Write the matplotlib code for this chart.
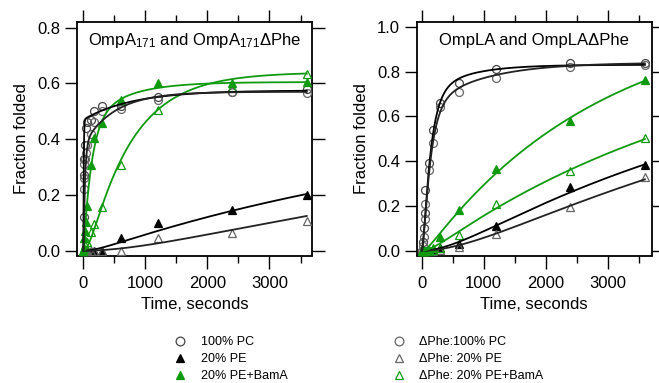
import numpy as np
import matplotlib
matplotlib.use("Agg")
import matplotlib.pyplot as plt
from matplotlib.lines import Line2D
from matplotlib.ticker import MultipleLocator

plt.rcParams['font.family'] = ['Liberation Sans', 'DejaVu Sans']
plt.rcParams['mathtext.fontset'] = 'custom'
plt.rcParams['mathtext.rm'] = 'Liberation Sans'
plt.rcParams['mathtext.it'] = 'Liberation Sans:italic'
plt.rcParams['mathtext.bf'] = 'Liberation Sans:bold'

GREEN = '#109a10'
GRAY = '#666666'
DGRAY = '#444444'

# ---------------- Left panel: OmpA171 / OmpA171 dPhe ----------------
tA_pc = [5, 10, 15, 30, 45, 60, 120, 180, 300, 600, 1200, 2400, 3600]
vA_pc = [0.12, 0.27, 0.33, 0.38, 0.44, 0.46, 0.47, 0.50, 0.52, 0.52, 0.55, 0.57, 0.58]
vA_dpc = [0.22, 0.26, 0.31, 0.33, 0.35, 0.38, 0.42, 0.46, 0.50, 0.51, 0.54, 0.57, 0.565]

tA_pe = [15, 30, 45, 60, 120, 180, 300, 600, 1200, 2400, 3600]
vA_pe = [0, 0, 0, 0, 0, 0, 0, 0.045, 0.10, 0.145, 0.20]
vA_dpe = [0, 0, 0, 0, 0, 0, 0, 0.0, 0.045, 0.062, 0.105]

tA_bam = [0, 15, 30, 45, 60, 120, 180, 300, 600, 1200, 2400, 3600]
vA_bam = [0.0, 0.044, 0.07, 0.104, 0.16, 0.307, 0.403, 0.457, 0.54, 0.60, 0.603, 0.605]
tA_dbam = [0, 15, 30, 60, 120, 180, 300, 600, 1200, 2400, 3600]
vA_dbam = [0.0, 0.01, 0.02, 0.03, 0.068, 0.096, 0.155, 0.307, 0.505, 0.589, 0.634]

# fit parameters: [amp_fast, tau1, tau2(lag), amp_slow, tau_slow]
fitA_pc = [0.47, 6, 1, 0.105, 800]
fitA_dpc = [0.38, 25, 2, 0.19, 500]
fitA_pe = [0.5, 6500, 200, 0.0, 1]
fitA_dpe = [0.5, 9000, 1000, 0.0, 1]
fitA_bam = [0.45, 130, 5, 0.155, 600]
fitA_dbam = [0.64, 700, 100, 0.0, 1]

# ---------------- Right panel: OmpLA / OmpLA dPhe ----------------
tL_pc = [0, 15, 30, 45, 60, 120, 180, 300, 600, 1200, 2400, 3600]
vL_pc = [0.0, 0.04, 0.10, 0.17, 0.27, 0.39, 0.54, 0.66, 0.75, 0.81, 0.84, 0.84]
vL_dpc = [0.0, 0.02, 0.06, 0.14, 0.21, 0.36, 0.48, 0.64, 0.71, 0.77, 0.82, 0.83]

tL_pe = [0, 15, 30, 60, 120, 180, 300, 600, 1200, 2400, 3600]
vL_pe = [0, 0, 0, 0, 0, 0, 0.01, 0.03, 0.11, 0.283, 0.381]
vL_dpe = [0, 0, 0, 0, 0, 0, 0.005, 0.018, 0.073, 0.197, 0.327]
vL_bam = [0, 0, 0, 0, 0.005, 0.01, 0.06, 0.182, 0.365, 0.578, 0.761]
vL_dbam = [0, 0, 0, 0, 0, 0.005, 0.01, 0.07, 0.209, 0.354, 0.504]

fitL_pc = [0.68, 120, 30, 0.15, 600]
fitL_dpc = [0.63, 120, 30, 0.21, 900]
fitL_pe = [0.9, 5500, 500, 0.0, 1]
fitL_dpe = [0.92, 6500, 800, 0.0, 1]
fitL_bam = [1.08, 2900, 80, 0.0, 1]
fitL_dbam = [1.0, 5000, 150, 0.0, 1]

xticks = [0, 1000, 2000, 3000]
yticksA = [0.0, 0.2, 0.4, 0.6, 0.8]
yticksL = [0.0, 0.2, 0.4, 0.6, 0.8, 1.0]


def model(t, p):
    a, tau1, tau2, b, taus = p
    k1, k2 = 1.0 / tau1, 1.0 / tau2
    seq = 1 - (k2 * np.exp(-k1 * t) - k1 * np.exp(-k2 * t)) / (k2 - k1)
    return a * seq + b * (1 - np.exp(-t / taus))


tt = np.linspace(0, 3600, 4001)

fig = plt.figure(figsize=(6.59, 3.83), dpi=100)
axA = fig.add_axes([77.3 / 659, 1 - 255.5 / 383, (311.7 - 77.3) / 659, (255.5 - 21.7) / 383])
axL = fig.add_axes([416.7 / 659, 1 - 255.5 / 383, (651.7 - 416.7) / 659, (255.5 - 21.7) / 383])

ms = 5.7
mew = 0.9
lw = 1.3


def pts(ax, t, v, marker, face, edge, z=3):
    ax.plot(t, v, linestyle='none', marker=marker, markersize=ms,
            markerfacecolor=face, markeredgecolor=edge, markeredgewidth=mew, zorder=z)


def curve(ax, p, color):
    ax.plot(tt, model(tt, p), color=color, lw=lw, zorder=4)


# Left panel
curve(axA, fitA_pe, 'black')
curve(axA, fitA_dpe, '#222222')
curve(axA, fitA_dbam, GREEN)
curve(axA, fitA_bam, GREEN)
curve(axA, fitA_pc, 'black')
curve(axA, fitA_dpc, '#222222')
pts(axA, tA_pc, vA_pc, 'o', 'none', DGRAY)
pts(axA, tA_pc, vA_dpc, 'o', 'none', GRAY)
pts(axA, tA_pe, vA_pe, '^', 'black', 'black')
pts(axA, tA_pe, vA_dpe, '^', 'none', GRAY)
pts(axA, tA_bam, vA_bam, '^', GREEN, GREEN)
pts(axA, tA_dbam, vA_dbam, '^', 'none', GREEN)

# Right panel
curve(axL, fitL_pe, 'black')
curve(axL, fitL_dpe, '#222222')
curve(axL, fitL_dbam, GREEN)
curve(axL, fitL_bam, GREEN)
curve(axL, fitL_pc, 'black')
curve(axL, fitL_dpc, '#222222')
pts(axL, tL_pc, vL_pc, 'o', 'none', DGRAY)
pts(axL, tL_pc, vL_dpc, 'o', 'none', GRAY)
pts(axL, tL_pe, vL_pe, '^', 'black', 'black')
pts(axL, tL_pe, vL_dpe, '^', 'none', GRAY)
pts(axL, tL_pe, vL_bam, '^', GREEN, GREEN)
pts(axL, tL_pe, vL_dbam, '^', 'none', GREEN)

for ax, yt, ylim, xlim, title in [
    (axA, yticksA, (-0.0172, 0.8215), (-97, 3680), 'OmpA$_{171}$ and OmpA$_{171}$\u0394Phe'),
    (axL, yticksL, (-0.0215, 1.0224), (-81, 3710), 'OmpLA and OmpLA\u0394Phe'),
]:
    ax.set_xlim(*xlim)
    ax.set_ylim(*ylim)
    ax.set_xticks(xticks)
    ax.xaxis.set_minor_locator(MultipleLocator(500))
    ax.set_yticks(yt)
    ax.set_yticklabels([f'{v:.1f}' for v in yt])
    ax.tick_params(axis='both', which='major', direction='out', length=9, width=1.0,
                   labelsize=12, colors='black')
    ax.tick_params(axis='x', which='major', top=True, bottom=True, pad=6)
    ax.tick_params(axis='y', which='major', left=True, right=True, pad=3)
    ax.tick_params(axis='x', which='minor', direction='out', length=5, width=1.0,
                   top=True, bottom=True)
    for s in ax.spines.values():
        s.set_linewidth(1.3)
    ax.set_xlabel('Time, seconds', fontsize=12, labelpad=4)
    ax.set_ylabel('Fraction folded', fontsize=12, labelpad=6)
    ax.text(0.5, 0.92, title, transform=ax.transAxes, ha='center', va='center', fontsize=12)

# Legends
def h(marker, face, edge):
    return Line2D([], [], linestyle='none', marker=marker, markersize=6.3,
                  markerfacecolor=face, markeredgecolor=edge, markeredgewidth=mew)

leg1 = fig.legend([h('o', 'none', DGRAY), h('^', 'black', 'black'), h('^', GREEN, GREEN)],
                  ['100% PC', '20% PE', '20% PE+BamA'],
                  loc='upper left', bbox_to_anchor=(174 / 659, 1 - 336 / 383),
                  frameon=False, fontsize=9, handlelength=1.0, handletextpad=1.15,
                  labelspacing=0.4, borderpad=0, borderaxespad=0)
leg2 = fig.legend([h('o', 'none', GRAY), h('^', 'none', GRAY), h('^', 'none', GREEN)],
                  ['\u0394Phe:100% PC', '\u0394Phe: 20% PE', '\u0394Phe: 20% PE+BamA'],
                  loc='upper left', bbox_to_anchor=(393 / 659, 1 - 336 / 383),
                  frameon=False, fontsize=9, handlelength=1.0, handletextpad=1.05,
                  labelspacing=0.4, borderpad=0, borderaxespad=0)

fig.savefig('out.png', dpi=100)
